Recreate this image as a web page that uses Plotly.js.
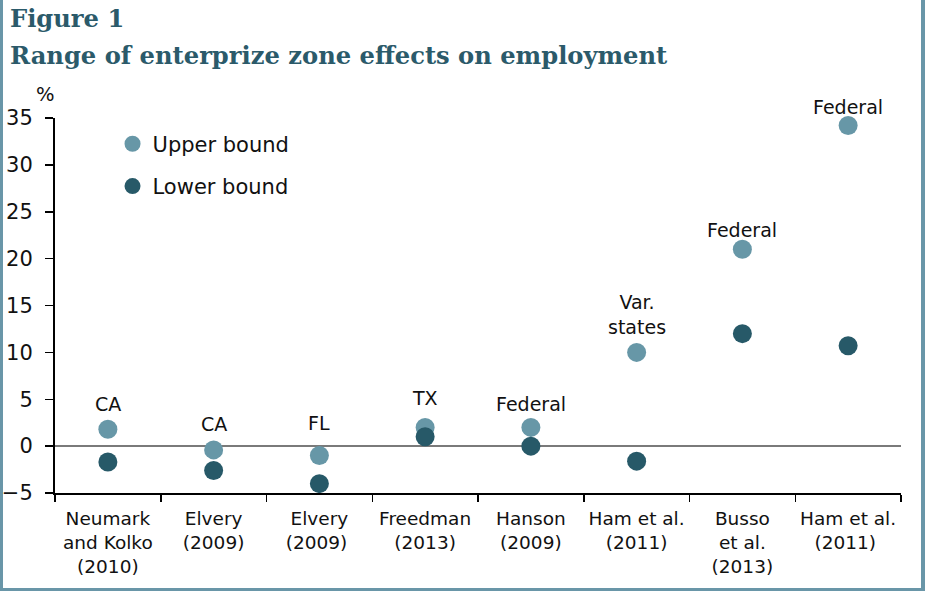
<!DOCTYPE html>
<html>
<head>
<meta charset="utf-8">
<script src="https://cdn.plot.ly/plotly-3.0.1.min.js"></script>
<style>
html,body{margin:0;padding:0;background:#fff;}
#wrap{position:relative;width:925px;height:591px;overflow:hidden;}
#chart{position:absolute;left:0;top:0;width:925px;height:591px;}
.bd{position:absolute;background:#6996a8;}
</style>
</head>
<body>
<div id="wrap">
<div id="chart"></div>
<div class="bd" style="left:0;top:0;width:3px;height:591px;"></div>
<div class="bd" style="left:921px;top:0;width:4px;height:591px;"></div>
<div class="bd" style="left:0;top:588px;width:925px;height:3px;"></div>
</div>
<script>
const categories = [
  "Neumark<br>and Kolko<br>(2010)",
  "Elvery<br>(2009)",
  "Elvery<br>(2009) ",
  "Freedman<br>(2013)",
  "Hanson<br>(2009)",
  "Ham et al.<br>(2011)",
  "Busso<br>et al.<br>(2013)",
  "Ham et al.<br>(2011) "
];
const upperBound = [1.8, -0.4, -1.0, 2.0, 2.0, 10.0, 21.0, 34.2];
const lowerBound = [-1.7, -2.6, -4.0, 1.0, 0.0, -1.6, 12.0, 10.7];
const regionLabels = ["CA", "CA", "FL", "TX", "Federal", "Var.<br>states", "Federal", "Federal"];
const yTicks = [-5, 0, 5, 10, 15, 20, 25, 30, 35];

// pixel gap between each upper-bound dot and its region label (style)
const labelGap = [12, 13, 20, 16, 10, 12, 6, 6];

const FONT = "DejaVu Sans, Verdana, sans-serif";
const FS = 20.5;

const traces = [
  {
    type: "scatter", mode: "markers", name: "Upper bound",
    x: categories, y: upperBound, legendgroup: "u",
    marker: {color: "#6797a7", size: 19}, cliponaxis: false
  },
  {
    type: "scatter", mode: "markers", name: "Lower bound",
    x: categories, y: lowerBound, legendgroup: "l",
    marker: {color: "#275968", size: 19}, cliponaxis: false
  }
];

const annotations = categories.map((c, i) => ({
  x: c, y: upperBound[i], xref: "x", yref: "y",
  yanchor: "bottom", yshift: labelGap[i],
  text: regionLabels[i], showarrow: false,
  font: {family: FONT, size: FS - 1.5, color: "#111"}
}));
annotations.push({
  xref: "paper", yref: "paper", x: 0.002, y: 1.062, xanchor: "right", yanchor: "middle",
  text: "%", showarrow: false, font: {family: FONT, size: FS - 1, color: "#111"}
});
annotations.push({
  xref: "paper", yref: "paper", x: -0.056, xanchor: "left", y: 1.265, yanchor: "middle",
  text: "<b>Figure 1</b>", showarrow: false,
  font: {family: "DejaVu Serif, serif", size: 24.2, color: "#2b5a6a"}
});
annotations.push({
  xref: "paper", yref: "paper", x: -0.056, xanchor: "left", y: 1.168, yanchor: "middle",
  text: "<b>Range of enterprize zone effects on employment</b>", showarrow: false,
  font: {family: "DejaVu Serif, serif", size: 24.2, color: "#2b5a6a"}
});

const layout = {
  width: 925, height: 591,
  margin: {l: 55, r: 24, t: 118, b: 98},
  paper_bgcolor: "#fff", plot_bgcolor: "#fff",
  font: {family: FONT, size: FS, color: "#111"},
  showlegend: true,
  legend: {
    x: 0.068, y: 0.985, xanchor: "left", yanchor: "top",
    bgcolor: "rgba(0,0,0,0)", font: {family: FONT, size: FS + 0.5, color: "#111"},
    tracegroupgap: 12, itemsizing: "trace"
  },
  xaxis: {
    type: "category", range: [-0.5, 7.5],
    showgrid: false, zeroline: false,
    showline: true, linecolor: "#000", linewidth: 2,
    ticks: "outside", tickson: "boundaries", ticklen: 7, tickcolor: "#000", tickwidth: 1.5,
    tickangle: 0, ticklabelstandoff: 8,
    tickfont: {family: FONT, size: FS - 2, color: "#111"},
    fixedrange: true
  },
  yaxis: {
    range: [-5, 35], tickvals: yTicks,
    showgrid: false, zeroline: true, zerolinecolor: "#7a7a7a", zerolinewidth: 1.5,
    showline: true, linecolor: "#000", linewidth: 2,
    ticks: "outside", ticklen: 8, tickcolor: "#000", tickwidth: 1.5,
    ticklabelstandoff: 8,
    tickfont: {family: FONT, size: FS + 0.5, color: "#111"},
    fixedrange: true
  },
  annotations: annotations
};

Plotly.newPlot("chart", traces, layout, {displayModeBar: false, staticPlot: true});
</script>
</body>
</html>
